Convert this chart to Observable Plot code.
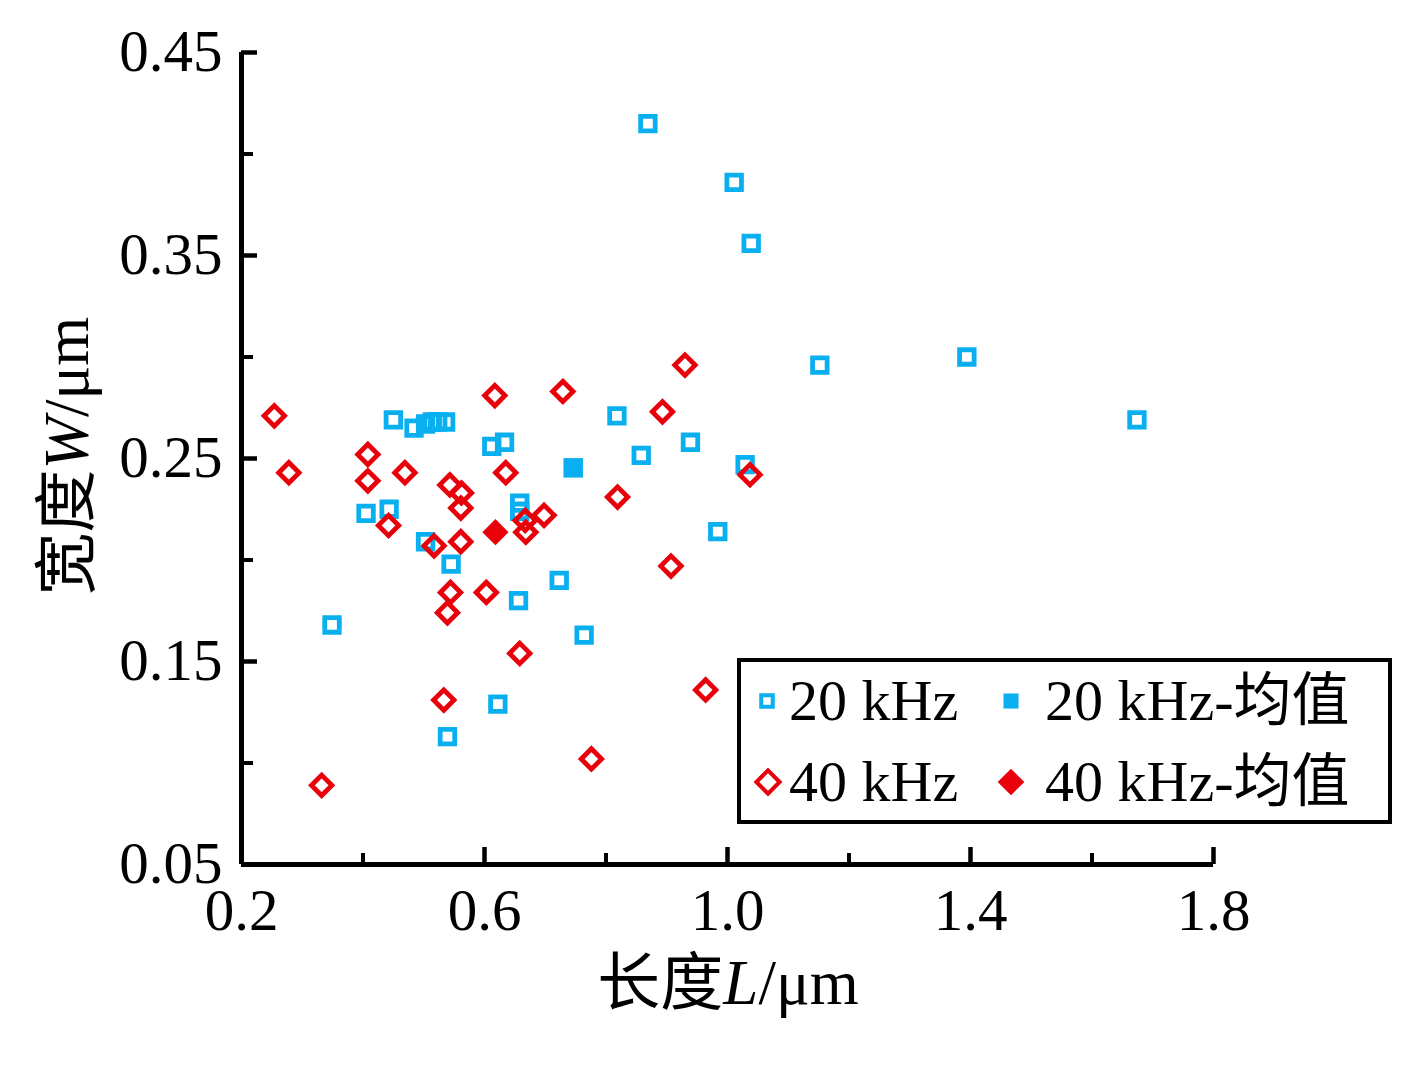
<!DOCTYPE html>
<html>
<head>
<meta charset="utf-8">
<script src="https://cdn.jsdelivr.net/npm/d3@7"></script>
<script src="https://cdn.jsdelivr.net/npm/@observablehq/plot@0.6"></script>
<style>
  html, body { margin: 0; padding: 0; background: #fff; }
  #chart svg { display: block; }
</style>
</head>
<body>
<div id="chart"></div>
<script>
// ---- data ----
const len20 = [0.869, 1.011, 1.039, 1.152, 1.394, 1.674, 0.450, 0.484, 0.503, 0.514, 0.523, 0.536,
  0.612, 0.633, 0.405, 0.443, 0.658, 0.658, 0.503, 0.545, 0.349, 0.723, 0.656, 0.764,
  0.818, 0.858, 0.939, 1.029, 0.984, 0.622, 0.539];
const wid20 = [0.415, 0.386, 0.356, 0.296, 0.300, 0.269, 0.269, 0.265, 0.267, 0.268, 0.268, 0.268,
  0.256, 0.258, 0.223, 0.225, 0.228, 0.224, 0.209, 0.198, 0.168, 0.190, 0.180, 0.163,
  0.271, 0.2515, 0.258, 0.247, 0.214, 0.129, 0.113];
const len40 = [0.254, 0.278, 0.408, 0.408, 0.469, 0.442, 0.617, 0.729, 0.635, 0.543, 0.562, 0.561,
  0.517, 0.561, 0.544, 0.539, 0.603, 0.667, 0.668, 0.698, 0.930, 0.893, 1.037, 0.819,
  0.907, 0.658, 0.533, 0.964, 0.776, 0.332];
const wid40 = [0.271, 0.243, 0.252, 0.239, 0.243, 0.217, 0.281, 0.283, 0.243, 0.237, 0.233, 0.2256,
  0.207, 0.209, 0.184, 0.174, 0.184, 0.2195, 0.2137, 0.222, 0.296, 0.273, 0.242, 0.231,
  0.197, 0.154, 0.131, 0.136, 0.102, 0.089];
const mean20 = [0.746, 0.2454];
const mean40 = [0.618, 0.2137];
const xMajor = [0.2, 0.6, 1.0, 1.4, 1.8];
const xMinor = [0.4, 0.8, 1.2, 1.6];
const yMajor = [0.05, 0.15, 0.25, 0.35, 0.45];
const yMinor = [0.10, 0.20, 0.30, 0.40];
const legendLabels = ["20 kHz", "20 kHz-均值", "40 kHz", "40 kHz-均值"];
const xTitle = ["长度", "L", "/μm"];
const yTitle = ["宽度", "W", "/μm"];

const blue = "#0AAFEF";
const red = "#E8000B";
const FONT = "'Liberation Serif','Times New Roman','Noto Sans CJK SC',serif";

const d20 = len20.map((x, i) => ({x, y: wid20[i]}));
const d40 = len40.map((x, i) => ({x, y: wid40[i]}));

const W = 1406, H = 1069;
const mL = 241, mR = 193, mT = 52, mB = 205;
const fw = W - mL - mR, fh = H - mT - mB;

const plot = Plot.plot({
  width: W, height: H,
  marginLeft: mL, marginRight: mR, marginTop: mT, marginBottom: mB,
  style: {fontFamily: FONT, background: "#fff"},
  x: {domain: [0.2, 1.8], axis: null},
  y: {domain: [0.05, 0.45], axis: null},
  marks: [
    // axis lines
    Plot.ruleX([0.2], {stroke: "#000", strokeWidth: 5}),
    Plot.ruleY([0.05], {stroke: "#000", strokeWidth: 5}),
    // inward ticks
    Plot.tickX(xMajor, {x: d => d, insetTop: fh - 17, stroke: "#000", strokeWidth: 4.5}),
    Plot.tickX(xMinor, {x: d => d, insetTop: fh - 11, stroke: "#000", strokeWidth: 4}),
    Plot.tickY(yMajor, {y: d => d, insetRight: fw - 16, stroke: "#000", strokeWidth: 4.5}),
    Plot.tickY(yMinor, {y: d => d, insetRight: fw - 12, stroke: "#000", strokeWidth: 4}),
    // tick labels
    Plot.text(xMajor, {x: d => d, frameAnchor: "bottom", dy: 47, text: d => d.toFixed(1),
      fontSize: 59, fontFamily: FONT, fill: "#000", lineAnchor: "middle"}),
    Plot.text(yMajor, {y: d => d, frameAnchor: "left", dx: -19, textAnchor: "end", text: d => d.toFixed(2),
      fontSize: 59, fontFamily: FONT, fill: "#000", lineAnchor: "middle"}),
    // data
    Plot.dot(d20, {x: "x", y: "y", symbol: "square", r: 8.2, stroke: blue, strokeWidth: 4.8, fill: "none"}),
    Plot.dot(d40, {x: "x", y: "y", symbol: "diamond2", r: 9.2, stroke: red, strokeWidth: 4.8, fill: "none"}),
    Plot.dot([mean20], {x: d => d[0], y: d => d[1], symbol: "square", r: 11, fill: blue, stroke: "none"}),
    Plot.dot([mean40], {x: d => d[0], y: d => d[1], symbol: "diamond2", r: 11.8, fill: red, stroke: "none"})
  ]
});

document.getElementById("chart").appendChild(plot);
const svg = d3.select(plot);

// axis titles with italic variable
function title(parts, attrs) {
  const t = svg.append("text")
    .attr("font-family", FONT)
    .attr("font-size", 63)
    .attr("fill", "#000")
    .attr("text-anchor", "middle");
  for (const [k, v] of Object.entries(attrs)) t.attr(k, v);
  t.append("tspan").text(parts[0]);
  t.append("tspan").attr("font-style", "italic").text(parts[1]);
  t.append("tspan").text(parts[2]);
  return t;
}
title(xTitle, {x: 728, y: 1004});
title(yTitle, {transform: "translate(88,456) rotate(-90)"});

// legend
const lg = svg.append("g").attr("text-anchor", "start");
lg.append("rect").attr("x", 739).attr("y", 660).attr("width", 651).attr("height", 162)
  .attr("fill", "#fff").attr("stroke", "#000").attr("stroke-width", 4);
const sq = d3.symbol(d3.symbolSquare);
const dm = d3.symbol(d3.symbolDiamond2);
const items = [
  {sx: 767, sy: 701, tx: 789, ty: 720, sym: sq.size(Math.PI * 6.5 * 6.5)(), fill: "#fff", stroke: blue, label: legendLabels[0]},
  {sx: 1011, sy: 701, tx: 1045, ty: 720, sym: sq.size(Math.PI * 8.5 * 8.5)(), fill: blue, stroke: "none", label: legendLabels[1]},
  {sx: 768, sy: 782, tx: 789, ty: 801, sym: dm.size(Math.PI * 10.5 * 10.5)(), fill: "#fff", stroke: red, label: legendLabels[2]},
  {sx: 1011, sy: 782, tx: 1045, ty: 801, sym: dm.size(Math.PI * 12 * 12)(), fill: red, stroke: "none", label: legendLabels[3]}
];
for (const it of items) {
  lg.append("path").attr("d", it.sym).attr("transform", `translate(${it.sx},${it.sy})`)
    .attr("fill", it.fill).attr("stroke", it.stroke).attr("stroke-width", 4);
  lg.append("text").attr("x", it.tx).attr("y", it.ty).attr("font-family", FONT)
    .attr("text-anchor", "start")
    .attr("font-size", 58).attr("fill", "#000").text(it.label);
}
</script>
</body>
</html>
